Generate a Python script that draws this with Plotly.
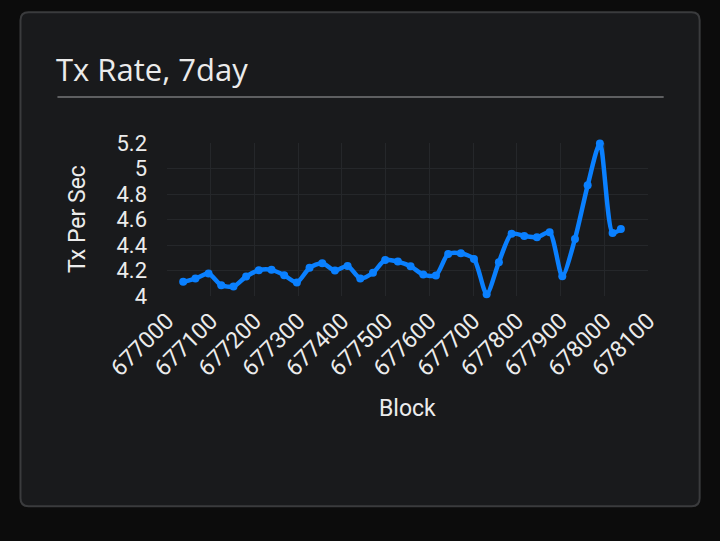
import plotly.graph_objects as go

blocks = [677037, 677065, 677095, 677124, 677152, 677181, 677210, 677239, 677268,
          677297, 677326, 677355, 677384, 677413, 677442, 677471, 677499, 677528,
          677557, 677586, 677615, 677643, 677672, 677702, 677731, 677759, 677788,
          677817, 677846, 677875, 677904, 677933, 677962, 677990, 678019, 678038]
tx_rate = [4.111, 4.137, 4.176, 4.085, 4.074, 4.153, 4.202, 4.205, 4.163,
           4.106, 4.221, 4.257, 4.200, 4.236, 4.137, 4.182, 4.283, 4.270,
           4.233, 4.168, 4.161, 4.330, 4.335, 4.291, 4.014, 4.265, 4.489,
           4.471, 4.460, 4.500, 4.155, 4.448, 4.868, 5.197, 4.495, 4.526]

title_text = "Tx Rate, 7day"
x_title = "Block"
y_title = "Tx Per Sec"

W, H = 720, 541
L, R, T, B = 166.7, 648.3, 143.3, 296.5

fig = go.Figure()
fig.add_trace(go.Scatter(
    x=blocks, y=tx_rate, mode="lines+markers",
    line=dict(color="#0a80ff", width=4.5, shape="spline", smoothing=0.7),
    marker=dict(color="#0a80ff", size=8),
    hoverinfo="x+y", showlegend=False, cliponaxis=False,
))

# pixel -> plot-area ("paper") fractions
def px(x):
    return (x - L) / (R - L)

def py(y):
    return (B - y) / (B - T)

# card with rounded corners
x0, x1, y0, y1, r = 20, 700, 12.5, 507, 8
path = (f"M {px(x0 + r)},{py(y0)} L {px(x1 - r)},{py(y0)} "
        f"Q {px(x1)},{py(y0)} {px(x1)},{py(y0 + r)} "
        f"L {px(x1)},{py(y1 - r)} Q {px(x1)},{py(y1)} {px(x1 - r)},{py(y1)} "
        f"L {px(x0 + r)},{py(y1)} Q {px(x0)},{py(y1)} {px(x0)},{py(y1 - r)} "
        f"L {px(x0)},{py(y0 + r)} Q {px(x0)},{py(y0)} {px(x0 + r)},{py(y0)} Z")

fig.update_layout(
    width=W, height=H,
    paper_bgcolor="#0c0c0c", plot_bgcolor="#191a1c",
    margin=dict(l=L, r=W - R, t=T, b=H - B, autoexpand=False),
    font=dict(family="Roboto, sans-serif", color="#ececec", size=20),
    shapes=[
        dict(type="path", xref="paper", yref="paper", path=path,
             fillcolor="#191a1c", line=dict(color="#3a3b3d", width=2), layer="below"),
        dict(type="line", xref="paper", yref="paper",
             x0=px(57), x1=px(664), y0=py(97.3), y1=py(97.3),
             line=dict(color="#5e5f61", width=2)),
    ],
    annotations=[
        dict(text=title_text, xref="paper", yref="paper", x=px(54), y=py(69),
             xanchor="left", yanchor="middle", showarrow=False,
             font=dict(family="Open Sans, sans-serif", size=31, color="#ebebeb")),
        dict(text=x_title, xref="paper", yref="paper", x=px(407.5), y=py(409),
             xanchor="center", yanchor="middle", showarrow=False,
             font=dict(size=23, color="#ececec")),
        dict(text=y_title, xref="paper", yref="paper", x=px(77), y=py(219),
             xanchor="center", yanchor="middle", showarrow=False, textangle=-90,
             font=dict(size=23, color="#ececec")),
    ],
    xaxis=dict(range=[677000, 678100], dtick=100, tick0=677000, tickangle=-45,
               showgrid=True, gridcolor="#25272a", zeroline=False, showline=False,
               tickfont=dict(size=23), ticks="", automargin=False,
               tickformat="d", ticklabelstandoff=6),
    yaxis=dict(range=[4, 5.2], dtick=0.2, tick0=4, showgrid=True,
               gridcolor="#25272a", zeroline=False, showline=False,
               tickfont=dict(size=22), ticks="", automargin=False,
               ticklabelstandoff=19),
)

fig.write_html("out.html", config={"displayModeBar": False},
               post_script="document.body.style.margin='0';"
               "document.body.style.background='#0c0c0c';")
